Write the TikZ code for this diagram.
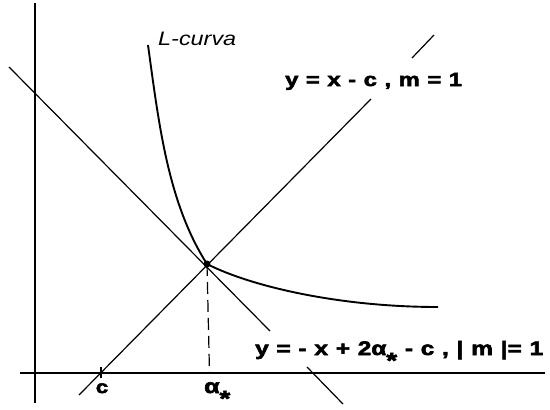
\documentclass[tikz,border=0pt]{standalone}
\usepackage{fontspec}
\setmainfont{Liberation Sans}
\newfontfamily\labfont[FakeStretch=1.25,WordSpace=1.15,FakeBold=3]{Liberation Sans Bold}
\newfontfamily\curvefont[FakeStretch=1.2]{Liberation Sans}
\newcommand{\lowstar}[2]{\raisebox{#1}{\fontsize{#2}{#2}\selectfont *}}
\begin{document}
\begin{tikzpicture}[x=1pt,y=-1pt,
  axisline/.style={line width=1.5pt},
  thinline/.style={line width=1.2pt},
  curveline/.style={line width=1.9pt},
  dashline/.style={line width=1.2pt,dash pattern=on 12pt off 6pt},
  dotnode/.style={circle,fill=black,inner sep=0pt,minimum size=7pt},
  lab/.style={inner sep=0pt,font=\labfont\fontsize{19}{22}\selectfont},
  ticklab/.style={inner sep=0pt,font=\labfont}
]
\useasboundingbox (0,0) rectangle (550,410);
% coordinates
\coordinate (yt) at (35,3);
\coordinate (yb) at (35,403);
\coordinate (xl) at (20,373);
\coordinate (xr) at (545,373);
\coordinate (a1) at (79,395);
\coordinate (a2) at (371,99);
\coordinate (a3) at (412,58);
\coordinate (a4) at (434,35);
\coordinate (d1) at (9,67);
\coordinate (d2) at (270,331);
\coordinate (d3) at (307,367);
\coordinate (d4) at (343,404);
\coordinate (Lt) at (148,45);
\coordinate (Le) at (438,307);
\coordinate (ct1) at (101,367);
\coordinate (ct2) at (101,378);
\coordinate (Pf) at (209.5,373);
\node[dotnode] (P) at (207,264) {};
% axes
\draw[axisline] (yt) -- (yb);
\draw[axisline] (xl) -- (xr);
% lines
\draw[thinline] (a1) -- (a2);
\draw[thinline] (a3) -- (a4);
\draw[thinline] (d1) -- (d2);
\draw[thinline] (d3) -- (d4);
\draw[thinline] (ct1) -- (ct2);
\draw[dashline] (P.center) -- (Pf);
% L-curve
\draw[curveline] (Lt) .. controls (159,125) and (168,203) .. (P.center)
  .. controls (250,286) and (338,307) .. (Le);
% labels
\node[anchor=base west,inner sep=0pt,font=\curvefont\itshape\fontsize{19.5}{22}\selectfont] (lc) at (158,45) {L-curva};
\node[lab,anchor=base west] (l1) at (285,86) {y = x - c , m = 1};
\node[lab,anchor=base west,font=\labfont\fontsize{19.5}{22}\selectfont] (l2) at (255,355) {y = - x + 2α\lowstar{-13pt}{22} - c , | m |= 1};
\node[ticklab,anchor=base,font=\labfont\fontsize{18}{20}\selectfont] (cl) at (102,393) {c};
\node[ticklab,anchor=base west,font=\labfont\fontsize{20}{22}\selectfont] (al) at (204,393) {α\lowstar{-13pt}{22}};
\end{tikzpicture}
\end{document}
